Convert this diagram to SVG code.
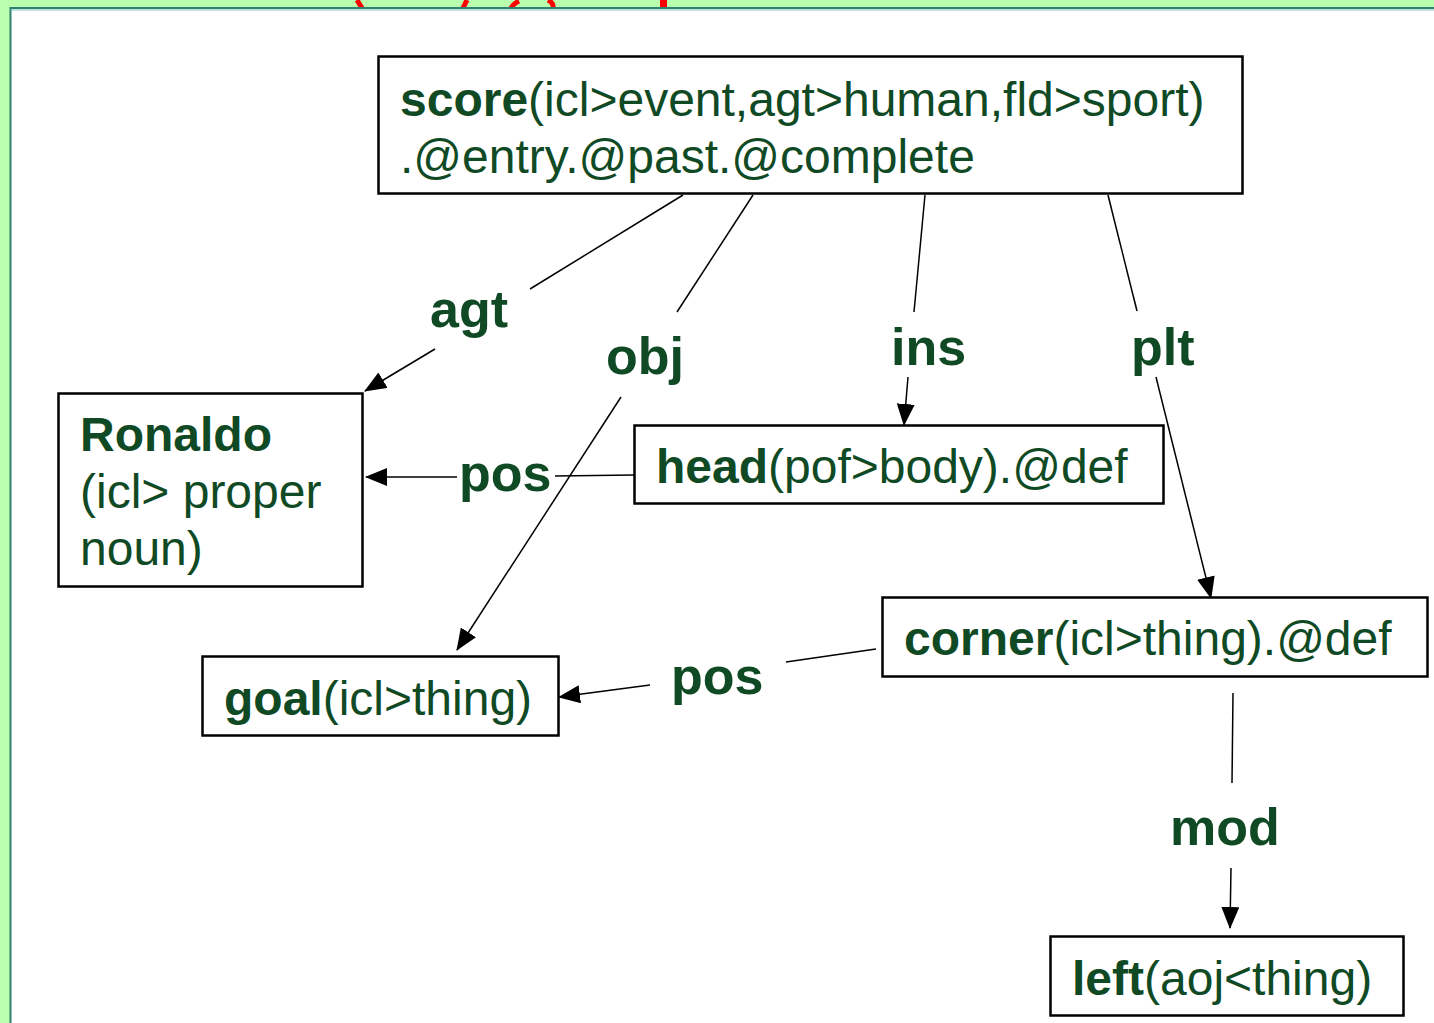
<svg xmlns="http://www.w3.org/2000/svg" width="1434" height="1023" viewBox="0 0 1434 1023">
<defs>
<style>
.node rect{fill:#fff;stroke:#000;stroke-width:2.5}
.t{font-family:"Liberation Sans",Arial,sans-serif;font-size:48px;fill:#104a25}
.b{font-weight:bold}
.lbl{font-family:"Liberation Sans",Arial,sans-serif;font-size:52px;font-weight:bold;fill:#104a25}
.edge{stroke:#000;stroke-width:1.5;fill:none}
.red{stroke:#ff0000;stroke-width:5;fill:none}
</style>
<marker id="ah" markerWidth="22" markerHeight="18" refX="21" refY="9" orient="auto" markerUnits="userSpaceOnUse">
<path d="M0,0 L22,9 L0,18 Z" fill="#000"/>
</marker>
</defs>
<rect x="0" y="0" width="1434" height="1023" fill="#b9ffad"/>
<g id="title-fragments">
<path class="red" d="M357,0 Q360,5 362,8"/>
<path class="red" d="M467,0 L463,8"/>
<path class="red" d="M519,1 Q513,4 511,8"/>
<path class="red" d="M548,0 Q554,3 553,8"/>
<rect x="660" y="0" width="7" height="8" fill="#ff0000"/>
</g>
<rect x="10.5" y="8" width="1440" height="1030" fill="#fff" stroke="#2f8272" stroke-width="2"/>
<line x1="12" y1="10" x2="1434" y2="10" stroke="#a8d8d0" stroke-width="1.5"/>

<g id="connectors">
<line class="edge" x1="683" y1="195" x2="530" y2="289"/>
<line class="edge" x1="435" y1="349" x2="365" y2="391" marker-end="url(#ah)"/>
<line class="edge" x1="753" y1="195" x2="677" y2="312"/>
<line class="edge" x1="621" y1="397" x2="457" y2="650" marker-end="url(#ah)"/>
<line class="edge" x1="925" y1="195" x2="914" y2="312"/>
<line class="edge" x1="908" y1="377" x2="904" y2="425" marker-end="url(#ah)"/>
<line class="edge" x1="1108" y1="195" x2="1137" y2="311"/>
<line class="edge" x1="1156" y1="377" x2="1211" y2="598" marker-end="url(#ah)"/>
<line class="edge" x1="634" y1="475" x2="555" y2="476"/>
<line class="edge" x1="457" y1="477" x2="366" y2="477" marker-end="url(#ah)"/>
<line class="edge" x1="876" y1="649" x2="786" y2="662"/>
<line class="edge" x1="650" y1="685" x2="559" y2="697" marker-end="url(#ah)"/>
<line class="edge" x1="1233" y1="693" x2="1232" y2="783"/>
<line class="edge" x1="1231" y1="868" x2="1230" y2="928" marker-end="url(#ah)"/>
<text class="lbl" x="430" y="327">agt</text>
<text class="lbl" x="606" y="374">obj</text>
<text class="lbl" x="891" y="365">ins</text>
<text class="lbl" x="1131" y="365">plt</text>
<text class="lbl" x="459" y="491">pos</text>
<text class="lbl" x="671" y="694">pos</text>
<text class="lbl" x="1170" y="845">mod</text>
</g>

<g id="node-score" class="node">
<rect x="378.5" y="56.5" width="864" height="137"/>
<text class="t" x="400" y="116"><tspan class="b">score</tspan>(icl&gt;event,agt&gt;human,fld&gt;sport)</text>
<text class="t" x="400" y="173">.@entry.@past.@complete</text>
</g>
<g id="node-ronaldo" class="node">
<rect x="58.5" y="393.5" width="304" height="193"/>
<text class="t b" x="80" y="451">Ronaldo</text>
<text class="t" x="80" y="508">(icl&gt; proper</text>
<text class="t" x="80" y="565">noun)</text>
</g>
<g id="node-head" class="node">
<rect x="634.5" y="425.5" width="529" height="78"/>
<text class="t" x="656" y="483"><tspan class="b">head</tspan>(pof&gt;body).@def</text>
</g>
<g id="node-goal" class="node">
<rect x="202.5" y="656.5" width="356" height="79"/>
<text class="t" x="224" y="715"><tspan class="b">goal</tspan>(icl&gt;thing)</text>
</g>
<g id="node-corner" class="node">
<rect x="882.5" y="597.5" width="545" height="79"/>
<text class="t" x="904" y="655"><tspan class="b">corner</tspan>(icl&gt;thing).@def</text>
</g>
<g id="node-left" class="node">
<rect x="1050.5" y="936.5" width="353" height="79"/>
<text class="t" x="1072" y="995"><tspan class="b">left</tspan>(aoj&lt;thing)</text>
</g>
</svg>
